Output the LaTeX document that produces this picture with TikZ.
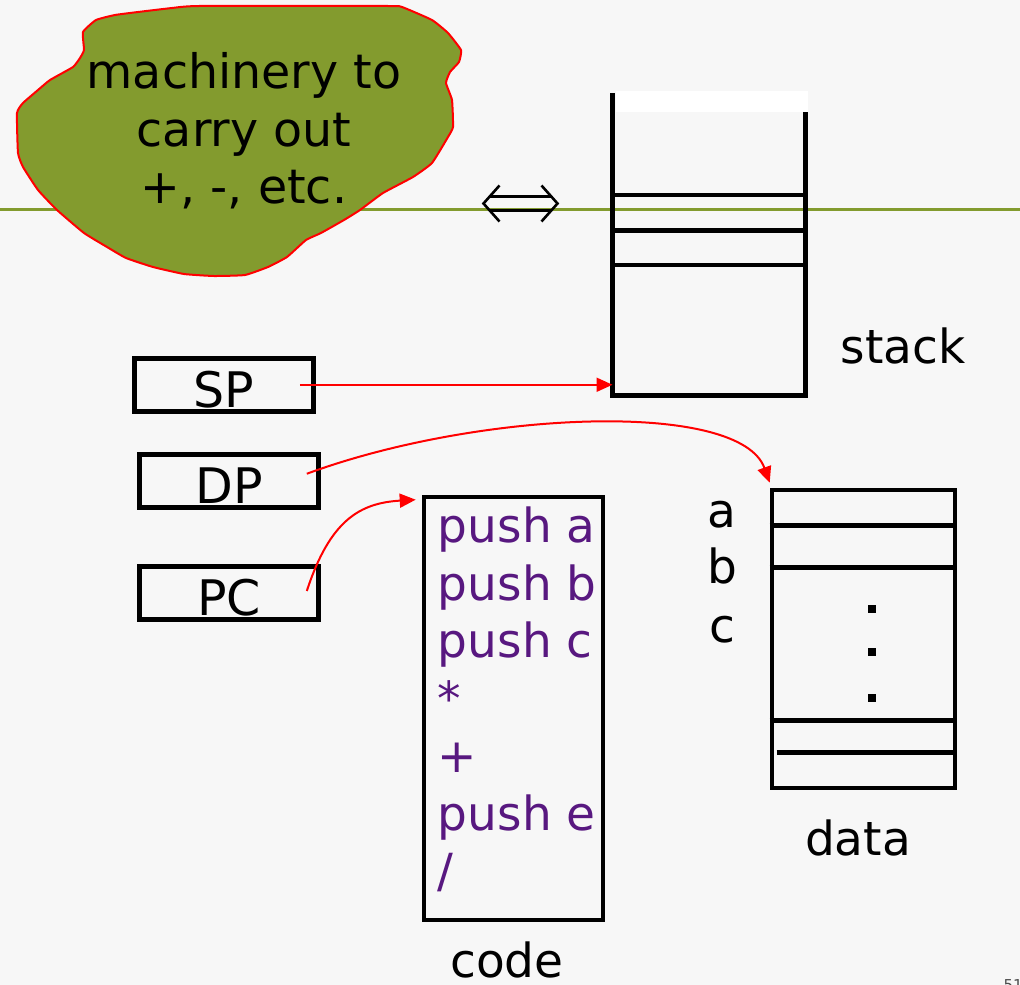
\documentclass[tikz,border=0pt]{standalone}
\usepackage{fontspec}
\setmainfont{DejaVu Sans}
\usetikzlibrary{calc,arrows.meta}

\definecolor{slidebg}{RGB}{247,247,247}
\definecolor{slidegreen}{RGB}{131,155,46}
\definecolor{codepurple}{RGB}{88,24,128}

\begin{document}
\begin{tikzpicture}[x=1pt, y=-1pt,
    every node/.style={font=\fontsize{47}{57.5}\selectfont},
    cell/.style={line width=4.6pt},
    reg/.style={draw, cell, minimum width=179pt, minimum height=53pt,
        inner sep=0pt, text height=48.5pt, text depth=4pt,
        font=\fontsize{49}{57.5}\selectfont},
    ptr/.style={red, line width=2pt, -{Triangle[length=16pt,width=14pt]}},
  ]
    \useasboundingbox (0,0) rectangle (1020,985);
    \fill[slidebg] (0,0) rectangle (1020,985);
    \draw[slidegreen, line width=3pt] (0,209) -- (1020,209);

    % the blob with the arithmetic machinery
    \draw[red, line width=2pt, fill=slidegreen, line join=round]
        plot[smooth cycle, tension=0.25] coordinates {
        (199,6) (388,6) (402,7) (432,20) (448,33) (461,50) (459,62) (450,72)
        (446,83) (452,100) (453,127) (448,137) (432,163) (413,177) (383,193)
        (360,210) (344,220) (321,233) (306,240) (287,257) (268,267) (245,275)
        (214,276) (184,274) (153,267) (126,258) (107,247) (84,233) (57,210)
        (38,190) (23,167) (18,153) (17,113) (23,103) (38,90) (50,80) (73,67)
        (80,58) (84,50) (83,32) (96,20) (115,15) (138,12) (172,8)};
    \node[align=center, font=\fontsize{47.5}{57.5}\selectfont] (alu) at (244,131)
        {machinery to\\carry out\\+, -, etc.};

    % equivalence sign
    \coordinate (equiv) at (520.5,203.5);
    \draw[line width=2.6pt, line join=miter]
        ($(equiv)+(-21,-18)$) -- ($(equiv)+(-37,0)$) -- ($(equiv)+(-21,18)$)
        ($(equiv)+(21,-18)$) -- ($(equiv)+(37,0)$) -- ($(equiv)+(21,18)$)
        ($(equiv)+(-31,-7)$) -- ($(equiv)+(31,-7)$)
        ($(equiv)+(-31,7)$) -- ($(equiv)+(31,7)$);

    % stack, open at the top
    \coordinate (stk) at (612.5,395.5);
    \fill[white] (616,91) rectangle (808,112);
    \draw[cell] (612.5,93) -- (stk) -- (805.5,395.5) -- (805.5,112);
    \foreach \y in {195,230.5,265}
        \draw[cell] (614,\y) -- (804,\y);
    \node[anchor=base] (stacklabel) at (903,363) {stack};

    % registers
    \node[reg] (sp) at (224,384.75) {SP};
    \node[reg] (dp) at (229,480.75) {DP};
    \node[reg] (pc) at (229,593) {PC};

    % program
    \node[draw, cell, minimum width=179pt, minimum height=423pt, inner sep=0pt]
        (code) at (513.5,708.5) {};
    \node[anchor=north west, align=left, inner sep=0pt, text=codepurple,
        font=\fontsize{47}{57.5}\selectfont] (prog) at ($(code.north west)+(16,12)$)
        {push a\\push b\\push c\\*\\+\\push e\\/};
    \node[anchor=base, inner sep=0pt, text depth=0pt] (codelabel) at (507,977) {code};

    % data area
    \node[draw, cell, minimum width=183pt, minimum height=298pt, inner sep=0pt]
        (data) at (863.5,639) {};
    \draw[cell] ($(data.north west)+(0,38)$) -- ($(data.north east)+(0,38)$);
    \draw[cell] ($(data.north west)+(0,80)$) -- ($(data.north east)+(0,80)$);
    \draw[cell] ($(data.north west)+(0,233)$) -- ($(data.north east)+(0,233)$);
    \draw[cell] ($(data.north west)+(7,265)$) -- ($(data.north east)+(0,265)$);
    \foreach \y in {609,652,698}
        \fill (868,\y-4) rectangle ++(8,8);
    \node[anchor=base] (va) at (722,527) {a};
    \node[anchor=base] (vb) at (722,583) {b};
    \node[anchor=base] (vc) at (722,642) {c};
    \node[anchor=base] (datalabel) at (858,855) {data};

    % pointers
    \draw[ptr] ([xshift=-16pt]sp.east) -- (sp.east -| stk);
    \draw[ptr] ($(dp.east)+(-14,-7)$) .. controls (480,410) and (740,400)
        .. ($(data.north west)+(0,-5)$);
    \draw[ptr] ($(pc.east)+(-14,-2)$) .. controls (330,520) and (360,503)
        .. ($(code.north west)+(-6,5)$);

    \node[anchor=base west, text=black!70, font=\fontsize{15}{18}\selectfont]
        (pageno) at (1000,990) {51};
\end{tikzpicture}
\end{document}
